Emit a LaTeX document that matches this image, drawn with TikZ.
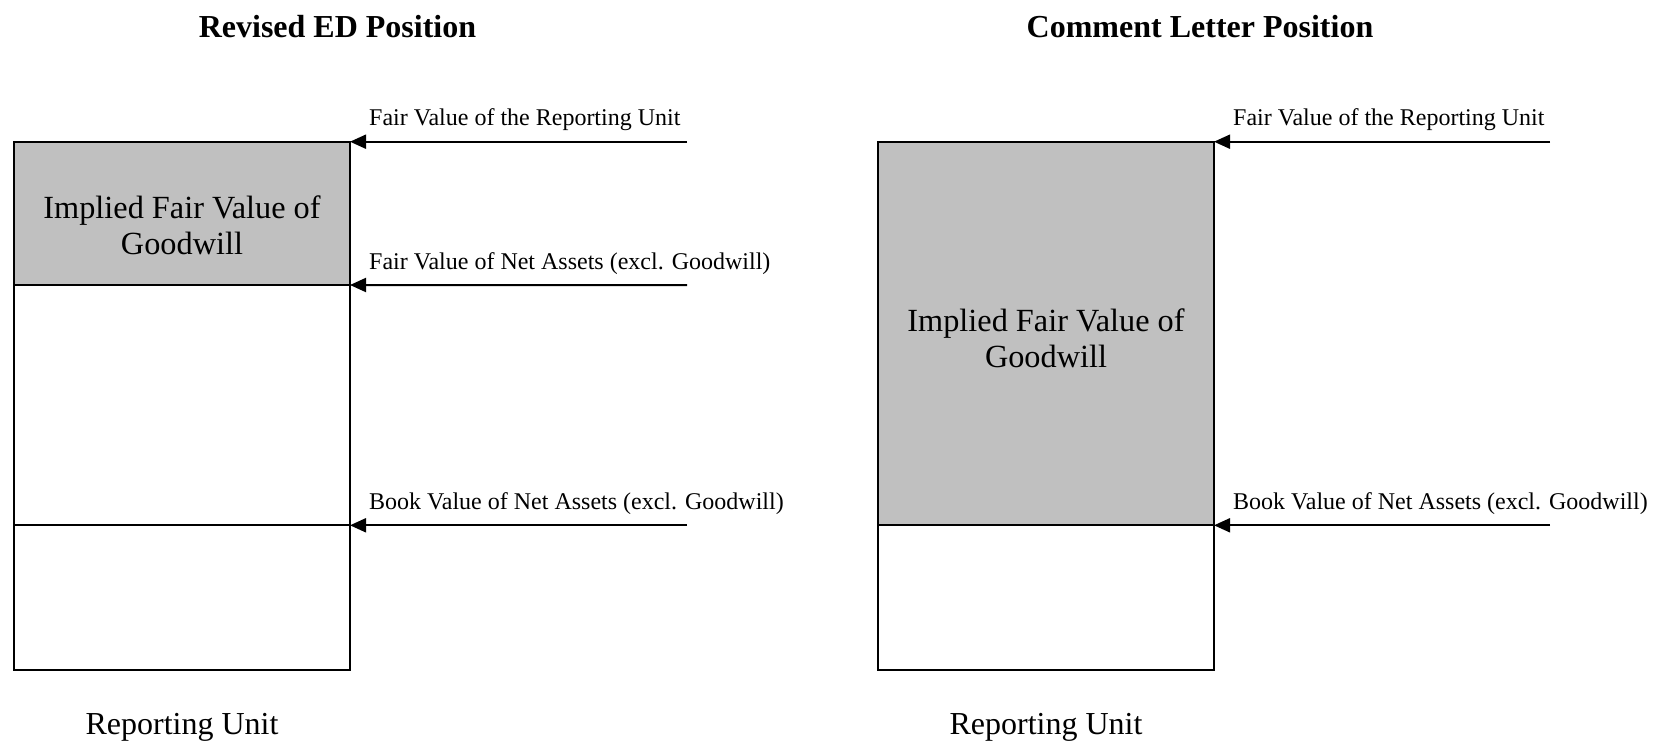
\documentclass[tikz,border=0pt]{standalone}
\usepackage{fontspec}
\setmainfont{Liberation Serif}
\usetikzlibrary{arrows.meta}
\definecolor{gwgray}{HTML}{C0C0C0}
\begin{document}
\begin{tikzpicture}[x=1pt,y=-1pt,
  part/.style={draw=black,line width=2pt,minimum width=336pt,inner sep=0pt,outer sep=0pt,anchor=north west},
  gw/.style={part,fill=gwgray},
  arr/.style={line width=2pt,-{Triangle[length=16pt,width=14pt]}},
  lbl/.style={anchor=base west,inner sep=0pt,font=\fontsize{24}{28}\selectfont},
  title/.style={anchor=base,inner sep=0pt,font=\fontsize{32}{38}\selectfont\bfseries},
  big/.style={inner sep=0pt,align=center,font=\fontsize{32.3}{36}\selectfont},
  unit/.style={anchor=base,inner sep=0pt,font=\fontsize{32}{38}\selectfont}]
\useasboundingbox (0,0) rectangle (1653,741);
% titles
\node[title] (t1) at (337.5,37.7) {Revised ED Position};
\node[title] (t2) at (1200,37.7) {Comment Letter Position};
% left column
\node[gw,minimum height=143.3pt] (lgw) at (14,141.7) {};
\node[part,minimum height=240.3pt] (lmid) at (14,285) {};
\node[part,minimum height=144.7pt] (lbot) at (14,525.3) {};
\node[big] (lgwt) at (182,225) {Implied Fair Value of\\Goodwill};
\node[unit] (lru) at (182,734) {Reporting Unit};
\coordinate (la1) at (687,141.7);
\coordinate (la2) at (687,285);
\coordinate (la3) at (687,525.3);
\draw[arr] (la1) -- (lgw.north east);
\draw[arr] (la2) -- (lgw.south east);
\draw[arr] (la3) -- (lbot.north east);
\node[lbl] (ll1) at (369,125.7) {Fair Value of the Reporting Unit};
\node[lbl] (ll2) at (369,269) {Fair Value of Net Assets (excl. Goodwill)};
\node[lbl] (ll3) at (369,509.3) {Book Value of Net Assets (excl. Goodwill)};
% right column
\node[gw,minimum height=383.6pt] (rgw) at (878,141.7) {};
\node[part,minimum height=144.7pt] (rbot) at (878,525.3) {};
\node[big] (rgwt) at (1046,338) {Implied Fair Value of\\Goodwill};
\node[unit] (rru) at (1046,734) {Reporting Unit};
\coordinate (ra1) at (1550,141.7);
\coordinate (ra3) at (1550,525.3);
\draw[arr] (ra1) -- (rgw.north east);
\draw[arr] (ra3) -- (rbot.north east);
\node[lbl] (rl1) at (1233,125.7) {Fair Value of the Reporting Unit};
\node[lbl] (rl3) at (1233,509.3) {Book Value of Net Assets (excl. Goodwill)};
\end{tikzpicture}
\end{document}
